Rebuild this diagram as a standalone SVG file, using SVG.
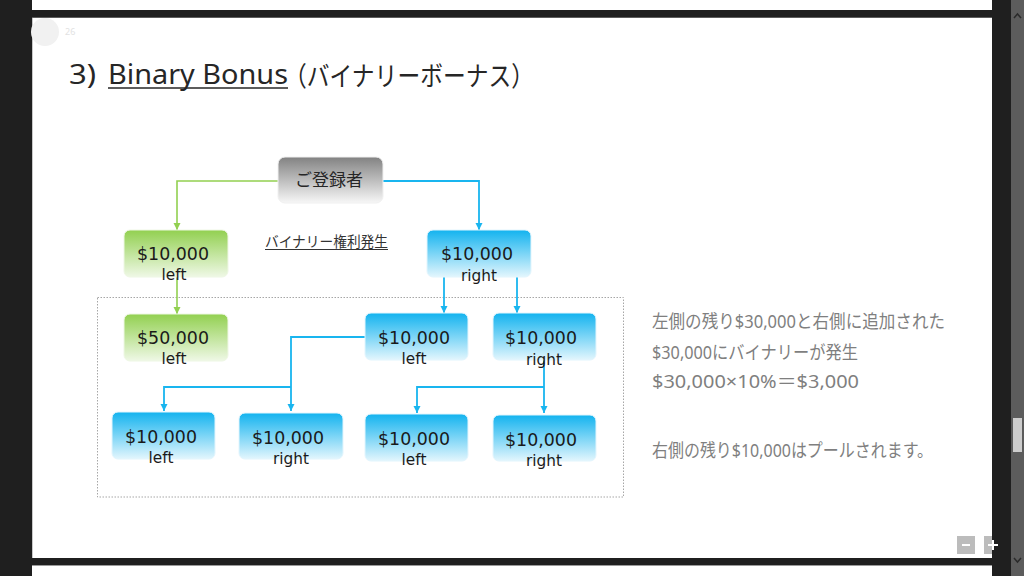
<svg xmlns="http://www.w3.org/2000/svg" width="1024" height="576" viewBox="0 0 1024 576">
<style>
.jp{font-family:"Noto Sans CJK JP",sans-serif}
.title{font-family:"Noto Sans","Noto Sans CJK JP",sans-serif;fill:#262626}
.amt{font-family:"DejaVu Sans","Noto Sans CJK JP",sans-serif;font-size:17.4px;fill:#1a1a1a;text-anchor:middle}
.sub{font-family:"DejaVu Sans","Noto Sans CJK JP",sans-serif;font-size:15.3px;fill:#1a1a1a;text-anchor:middle}
.note{font-family:"Noto Sans","Noto Sans CJK JP",sans-serif;font-size:18.5px;fill:#7f7f7f}
.green{fill:url(#gGreen);stroke:#eef7e4;stroke-width:1}
.blue{fill:url(#gBlue);stroke:#e2f5fd;stroke-width:1}
.gray{fill:url(#gGray);stroke:#f0f0f0;stroke-width:1}
.cb{fill:none;stroke:#19b5ef;stroke-width:1.8;marker-end:url(#aBlue)}
.cg{fill:none;stroke:#92d050;stroke-width:1.6;marker-end:url(#aGreen)}
</style>
<defs>
<linearGradient id="gGreen" x1="0" y1="0" x2="0" y2="1"><stop offset="0" stop-color="#92d050"/><stop offset="1" stop-color="#eff8e6"/></linearGradient>
<linearGradient id="gBlue" x1="0" y1="0" x2="0" y2="1"><stop offset="0" stop-color="#13b3ef"/><stop offset="1" stop-color="#e3f6fd"/></linearGradient>
<linearGradient id="gGray" x1="0" y1="0" x2="0" y2="1"><stop offset="0" stop-color="#828282"/><stop offset="1" stop-color="#f7f7f7"/></linearGradient>
<marker id="aBlue" markerUnits="userSpaceOnUse" markerWidth="8" markerHeight="8" refX="7" refY="4" orient="auto"><path d="M0,0.5 L7,4 L0,7.5 z" fill="#19b5ef"/></marker>
<marker id="aGreen" markerUnits="userSpaceOnUse" markerWidth="8" markerHeight="8" refX="7" refY="4" orient="auto"><path d="M0,0.5 L7,4 L0,7.5 z" fill="#92d050"/></marker>
</defs>

<!-- window chrome -->
<rect x="0" y="0" width="1024" height="576" fill="#1f1f1f"/>
<rect x="32" y="0" width="960" height="10" fill="#ffffff"/>
<rect x="32" y="18" width="960" height="540" fill="#ffffff"/>
<line x1="32.5" y1="18" x2="32.5" y2="558" stroke="#c8c8c8" stroke-width="1"/>
<line x1="32" y1="17.5" x2="992" y2="17.5" stroke="#9a9a9a" stroke-width="1"/>
<rect x="32" y="566" width="960" height="10" fill="#ffffff"/>
<line x1="32" y1="565.5" x2="992" y2="565.5" stroke="#9a9a9a" stroke-width="1"/>
<rect x="1011" y="0" width="13" height="576" fill="#5c5c5c"/>
<rect x="1013" y="418" width="9" height="34" fill="#cdcdcd"/>
<path d="M1014,18 L1017.5,14 L1021,18" fill="none" stroke="#2a2a2a" stroke-width="1.5"/>
<path d="M1014,558 L1017.5,562 L1021,558" fill="none" stroke="#2a2a2a" stroke-width="1.5"/>
<rect x="957" y="536" width="18" height="18" fill="#bcbcbc"/>
<line x1="962" y1="545" x2="970" y2="545" stroke="#ffffff" stroke-width="2"/>
<rect x="984" y="536" width="8" height="18" fill="#bcbcbc"/>
<line x1="988" y1="545" x2="998" y2="545" stroke="#ffffff" stroke-width="2"/>
<line x1="993" y1="540" x2="993" y2="550" stroke="#ffffff" stroke-width="2"/>
<circle cx="45" cy="32" r="14" fill="#f1f1f1"/>
<text x="65" y="35" font-family="Noto Sans,sans-serif" font-size="9" fill="#e2e2e2">26</text>
<rect x="32" y="10" width="960" height="7.5" fill="#1f1f1f"/>

<!-- title -->
<text class="title" x="69" y="84" font-size="27" textLength="27" lengthAdjust="spacingAndGlyphs">3)</text>
<text class="title" x="108" y="84" font-size="27" textLength="180" lengthAdjust="spacingAndGlyphs">Binary Bonus</text>
<line x1="108" y1="88" x2="288" y2="88" stroke="#262626" stroke-width="1.5"/>
<text class="title jp" x="284" y="86" font-size="27" textLength="250" lengthAdjust="spacingAndGlyphs">（バイナリーボーナス）</text>

<!-- dotted frame -->
<rect x="97.5" y="297.5" width="526" height="199.5" fill="none" stroke="#a6a6a6" stroke-width="1" stroke-dasharray="1.5 1.5"/>

<!-- connectors -->
<g id="connectors">
<path class="cg" d="M278,181 H177 V230"/>
<path class="cb" d="M383,181 H479 V230"/>
<path class="cg" d="M177,277 V314"/>
<path class="cb" d="M444,277 V313"/>
<path class="cb" d="M517,277 V313"/>
<path class="cb" d="M365,337 H291 V411"/>
<path class="cb" d="M291,387 H164 V411"/>
<path class="cb" d="M544,358 V413"/>
<path class="cb" d="M544,387 H417 V413"/>
</g>

<g id="label-binary">
<text class="jp" x="265" y="247" font-size="14.5" fill="#333333" textLength="123" lengthAdjust="spacingAndGlyphs">バイナリー権利発生</text>
<line x1="265" y1="249.5" x2="388" y2="249.5" stroke="#333333" stroke-width="1"/>
</g>

<!-- nodes -->
<g id="node-root">
<rect class="gray" x="278" y="157" width="105" height="46" rx="7"/>
<text class="jp" x="329" y="186" font-size="17" fill="#262626" text-anchor="middle">ご登録者</text>
</g>
<g id="node-L1">
<rect class="green" x="124" y="230" width="104" height="47" rx="6"/>
<text class="amt" x="173" y="260">$10,000</text>
<text class="sub" x="174" y="280">left</text>
</g>
<g id="node-R1">
<rect class="blue" x="427" y="230" width="104" height="47" rx="6"/>
<text class="amt" x="477" y="260">$10,000</text>
<text class="sub" x="479" y="281">right</text>
</g>
<g id="node-L2">
<rect class="green" x="124" y="314" width="104" height="47" rx="6"/>
<text class="amt" x="173" y="344">$50,000</text>
<text class="sub" x="174" y="364">left</text>
</g>
<g id="node-RL">
<rect class="blue" x="365" y="313" width="103" height="47" rx="6"/>
<text class="amt" x="414" y="344">$10,000</text>
<text class="sub" x="414" y="364">left</text>
</g>
<g id="node-RR">
<rect class="blue" x="493" y="313" width="103" height="47" rx="6"/>
<text class="amt" x="541" y="344">$10,000</text>
<text class="sub" x="544" y="365">right</text>
</g>
<g id="node-RLL">
<rect class="blue" x="112" y="412" width="103" height="47" rx="6"/>
<text class="amt" x="161" y="443">$10,000</text>
<text class="sub" x="161" y="463">left</text>
</g>
<g id="node-RLR">
<rect class="blue" x="239" y="413" width="104" height="46" rx="6"/>
<text class="amt" x="288" y="444">$10,000</text>
<text class="sub" x="291" y="464">right</text>
</g>
<g id="node-RRL">
<rect class="blue" x="365" y="414" width="103" height="47" rx="6"/>
<text class="amt" x="414" y="445">$10,000</text>
<text class="sub" x="414" y="465">left</text>
</g>
<g id="node-RRR">
<rect class="blue" x="493" y="415" width="103" height="46" rx="6"/>
<text class="amt" x="541" y="446">$10,000</text>
<text class="sub" x="544" y="466">right</text>
</g>

<!-- notes -->
<g id="notes">
<text class="note" x="652" y="328" textLength="293" lengthAdjust="spacingAndGlyphs">左側の残り$30,000と右側に追加された</text>
<text class="note" x="652" y="359" textLength="206" lengthAdjust="spacingAndGlyphs">$30,000にバイナリーが発生</text>
<text class="note" x="652" y="388" textLength="207" lengthAdjust="spacingAndGlyphs">$30,000×10%＝$3,000</text>
<text class="note" x="652" y="457" textLength="281" lengthAdjust="spacingAndGlyphs">右側の残り$10,000はプールされます。</text>
</g>
</svg>
